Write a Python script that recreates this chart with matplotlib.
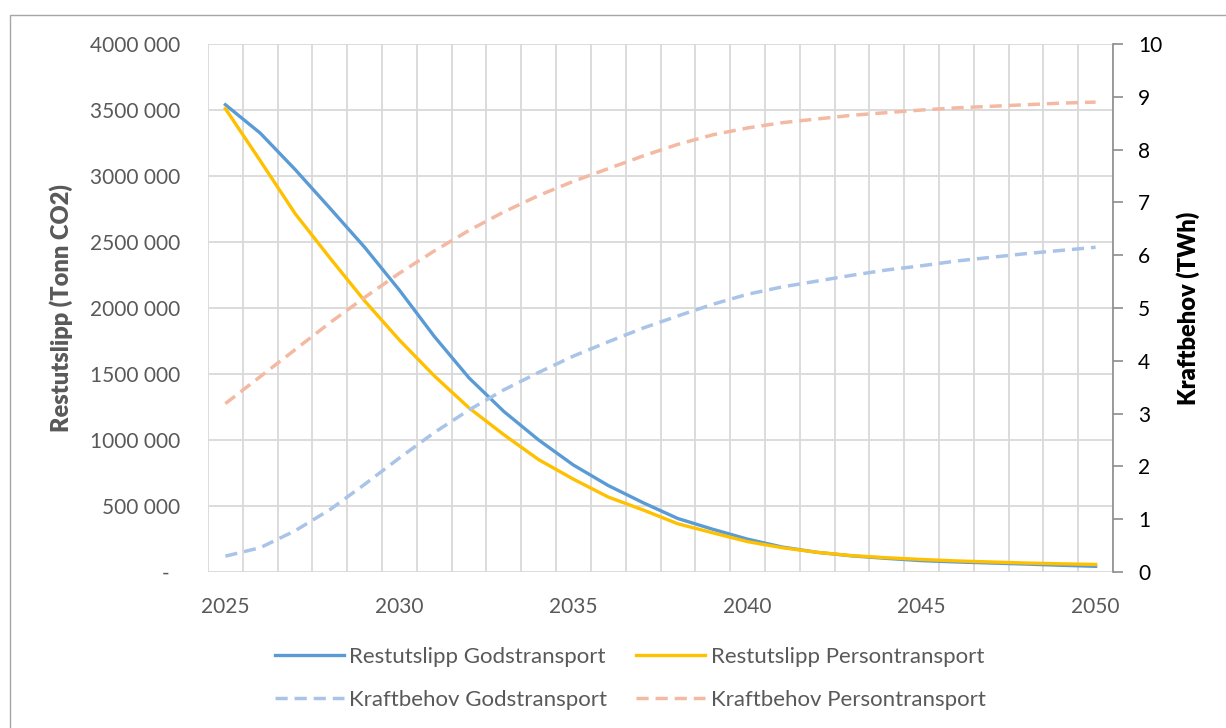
import matplotlib
matplotlib.use("Agg")
import matplotlib.pyplot as plt
from matplotlib.patches import Rectangle
from matplotlib.ticker import FixedLocator, FuncFormatter

# data
years = list(range(2025, 2051))
utslipp_gods = [3540000, 3325000, 3050000, 2757000, 2460000, 2135000, 1785000, 1470000,
                1216000, 1000000, 810000, 655000, 525000, 405000, 324000, 249000,
                189000, 149000, 122000, 103000, 86000, 76000, 68000, 60000, 51000, 43000]
utslipp_person = [3510000, 3116000, 2716000, 2380000, 2054000, 1757000, 1486000, 1243000,
                  1040000, 851000, 703000, 568000, 470000, 365000, 297000, 230000,
                  184000, 149000, 124000, 108000, 95000, 84000, 76000, 68000, 62000, 57000]
kraft_gods = [0.30, 0.46, 0.78, 1.18, 1.66, 2.16, 2.64, 3.07, 3.45, 3.78, 4.09, 4.36, 4.62,
              4.85, 5.07, 5.26, 5.40, 5.51, 5.62, 5.72, 5.80, 5.89, 5.96, 6.03, 6.09, 6.15]
kraft_person = [3.19, 3.70, 4.21, 4.72, 5.20, 5.66, 6.08, 6.47, 6.82, 7.13, 7.40, 7.64, 7.88,
                8.10, 8.28, 8.41, 8.51, 8.58, 8.65, 8.70, 8.75, 8.79, 8.82, 8.85, 8.88, 8.90]
year_labels = ["2025", "2030", "2035", "2040", "2045", "2050"]
left_ticks = [0, 500000, 1000000, 1500000, 2000000, 2500000, 3000000, 3500000, 4000000]
right_ticks = list(range(0, 11))

plt.rcParams["font.family"] = ["Lato", "DejaVu Sans"]
GREY = "#595959"
GRID = "#D9D9D9"

fig = plt.figure(figsize=(12.26, 7.28), dpi=100)
fig.patches.append(Rectangle((9.5 / 1226, -0.1), 2.0, 1.1 - 15 / 728, transform=fig.transFigure,
                             fill=False, edgecolor="#A6A6A6", linewidth=1.0))

ax = fig.add_axes([208 / 1226, 1 - 572 / 728, (1113 - 208) / 1226, (572 - 44) / 728])
ax2 = ax.twinx()

x = list(range(len(years)))
ax.plot(x, utslipp_gods, color="#5B9BD5", lw=2.4, label="Restutslipp Godstransport",
        solid_joinstyle="round", zorder=3)
ax.plot(x, utslipp_person, color="#FFC000", lw=2.4, label="Restutslipp Persontransport",
        solid_joinstyle="round", zorder=3)
l3, = ax2.plot(x, kraft_gods, color="#A9C4E8", lw=2.5, dashes=(3.5, 2.0),
               label="Kraftbehov Godstransport")
l4, = ax2.plot(x, kraft_person, color="#F4B9A2", lw=2.5, dashes=(3.5, 2.0),
               label="Kraftbehov Persontransport")

# left axis
ax.set_xlim(-0.5, len(years) - 0.5)
ax.set_ylim(0, 4000000)
ax.yaxis.set_major_locator(FixedLocator(left_ticks))
ax.yaxis.set_major_formatter(FuncFormatter(
    lambda v, p: "-  " if v == 0 else f"{int(v // 1000)} 000"))
ax.set_xticks([years.index(int(s)) for s in year_labels])
ax.set_xticklabels(year_labels)
ax.set_xticks([i - 0.5 for i in range(len(years) + 1)], minor=True)
ax.grid(True, axis="y", which="major", color=GRID, lw=1.3)
ax.grid(True, axis="x", which="minor", color=GRID, lw=1.3)
ax.grid(False, axis="x", which="major")
ax.set_axisbelow(True)
ax.tick_params(axis="y", length=0, pad=20, labelsize=15, labelcolor=GREY)
ax.tick_params(axis="x", which="both", length=0, pad=18, labelsize=15, labelcolor=GREY)
for s in ax.spines.values():
    s.set_visible(False)
ax.set_ylabel("Restutslipp (Tonn CO2)", fontsize=17, fontweight="heavy", color=GREY, labelpad=12)

# right axis
ax2.set_ylim(0, 10)
ax2.set_yticks(right_ticks)
ax2.tick_params(axis="y", length=7, width=1.2, color="#8C8C8C", pad=11, labelsize=15,
                labelcolor="black")
for k, s in ax2.spines.items():
    s.set_visible(k == "right")
ax2.spines["right"].set_color("#8C8C8C")
ax2.spines["right"].set_linewidth(1.2)
ax2.set_ylabel("Kraftbehov (TWh)", fontsize=17, fontweight="heavy", color="black", labelpad=10)

h1, h2 = ax.get_lines()[0], ax.get_lines()[1]
fig.legend([h1, l3, h2, l4], [h1.get_label(), l3.get_label(), h2.get_label(), l4.get_label()],
           ncol=2, loc="center", bbox_to_anchor=(0.514, 0.068), frameon=False, fontsize=16,
           handlelength=3.1, columnspacing=1.3, labelspacing=1.05, handletextpad=0.25,
           labelcolor=GREY)

fig.savefig("out.png", dpi=100)
